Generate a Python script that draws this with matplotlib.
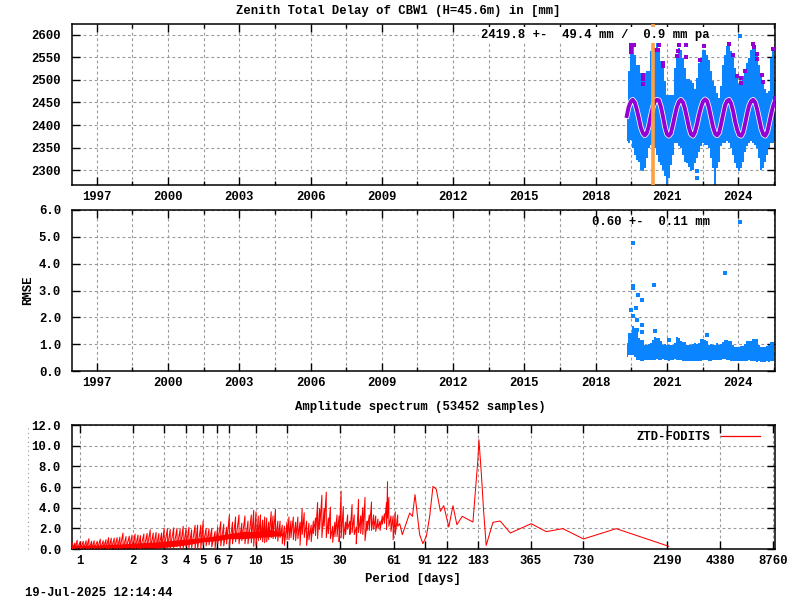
import numpy as np
from matplotlib import pyplot as plt
from matplotlib.lines import Line2D

plt.rcParams['font.family'] = ['Liberation Mono', 'DejaVu Sans']
plt.rcParams['font.weight'] = 'bold'
plt.rcParams['font.size'] = 8.8

# top panel, daily cloud
epochs = [2019.31,2019.39,2019.48,2019.56,2019.65,2019.73,2019.82,2019.90,2019.99,2020.07,
          2020.15,2020.24,2020.32,2020.41,2020.49,2020.58,2020.66,2020.75,2020.83,2020.92,
          2021.00,2021.08,2021.17,2021.25,2021.34,2021.42,2021.51,2021.59,2021.68,2021.76,
          2021.85,2021.93,2022.01,2022.10,2022.18,2022.27,2022.35,2022.44,2022.52,2022.61,
          2022.69,2022.77,2022.86,2022.94,2023.03,2023.11,2023.20,2023.28,2023.37,2023.45,
          2023.54,2023.62,2023.70,2023.79,2023.87,2023.96,2024.04,2024.13,2024.21,2024.30,
          2024.38,2024.46,2024.55,2024.63,2024.72,2024.80,2024.89,2024.97,2025.06,2025.14,
          2025.23,2025.31,2025.39,2025.48,2025.56]
ztd_high = [2449,2519,2582,2582,2556,2534,2534,2516,2516,2516,
            2519,2519,2564,2571,2567,2582,2571,2541,2527,2497,
            2467,2467,2467,2467,2527,2549,2571,2567,2549,2527,
            2501,2501,2497,2493,2479,2504,2538,2549,2567,2567,
            2556,2545,2519,2497,2486,2471,2460,2486,2534,2556,
            2575,2582,2564,2553,2527,2504,2490,2490,2508,2519,
            2538,2549,2567,2578,2571,2556,2534,2508,2493,2479,
            2471,2475,2549,2571,2493]
ztd_low = [2364,2360,2367,2349,2334,2323,2319,2301,2297,2304,
           2327,2349,2356,2356,2349,2334,2319,2312,2301,2286,
           2267,2282,2312,2334,2360,2360,2353,2349,2334,2319,
           2316,2308,2297,2301,2316,2327,2341,2353,2360,2356,
           2356,2349,2327,2304,2267,2304,2319,2353,2360,2360,
           2364,2360,2349,2334,2316,2304,2297,2304,2319,2341,
           2353,2360,2364,2360,2356,2349,2327,2301,2304,2319,
           2334,2349,2360,2360,2364]
ztd_mean = [2420,2440,2452,2456,2450,2435,2415,2395,2382,2377,
            2382,2398,2420,2440,2452,2456,2455,2440,2420,2395,
            2380,2376,2382,2400,2422,2440,2452,2456,2450,2436,
            2414,2394,2380,2376,2384,2402,2422,2440,2452,2457,
            2453,2438,2416,2396,2381,2377,2383,2402,2425,2444,
            2454,2456,2448,2430,2408,2389,2378,2376,2384,2405,
            2426,2443,2453,2456,2450,2434,2412,2392,2379,2376,
            2385,2405,2425,2444,2455]
out_year = [2019.49,2019.56,2019.63,2019.49,2019.49,2019.99,2019.99,2019.99,2020.66,2020.62,
            2020.55,2021.49,2021.46,2021.42,2021.82,2021.79,2022.56,2022.38,2020.83,2020.83,
            2023.62,2023.79,2023.96,2024.13,2024.13,2024.30,2024.63,2024.66,2024.80,2024.80,
            2025.01,2025.06,2025.48,2025.56]
out_ztd = [2578,2578,2578,2571,2562,2512,2501,2490,2578,2567,
           2567,2578,2564,2553,2578,2551,2575,2545,2538,2530,
           2580,2555,2508,2504,2493,2519,2580,2573,2558,2547,
           2512,2496,2569,2460]
blue_year = [2024.08,2022.27,2022.27]
blue_ztd = [2598,2298,2282]
marker_year = 2020.41

# middle panel
rmse_high = [1.03,1.41,1.41,1.66,1.60,1.53,1.22,1.16,1.16,0.97,
             0.97,1.00,1.03,1.16,1.28,1.22,1.22,1.12,0.97,1.00,
             0.97,0.97,0.97,0.97,1.03,1.28,1.22,1.12,1.07,1.07,
             0.97,0.97,0.97,1.00,1.03,1.00,1.03,1.18,1.20,1.16,
             1.10,0.97,1.00,0.97,0.97,1.03,0.97,1.00,1.07,1.16,
             1.16,1.13,1.10,0.97,0.91,0.91,0.91,0.94,0.94,1.00,
             1.12,1.12,1.12,1.18,1.18,1.18,0.97,0.91,0.91,0.91,
             0.94,0.97,1.07,1.07,0.72]
rmse_low = [0.51,0.60,0.60,0.60,0.54,0.41,0.40,0.38,0.39,0.40,
            0.41,0.41,0.42,0.41,0.42,0.43,0.42,0.41,0.44,0.42,
            0.41,0.39,0.41,0.41,0.44,0.42,0.41,0.40,0.38,0.37,
            0.38,0.36,0.38,0.36,0.37,0.38,0.36,0.37,0.41,0.42,
            0.41,0.38,0.37,0.40,0.41,0.42,0.41,0.42,0.43,0.43,
            0.42,0.40,0.37,0.38,0.36,0.37,0.37,0.36,0.36,0.37,
            0.38,0.40,0.38,0.37,0.36,0.35,0.36,0.35,0.34,0.35,
            0.36,0.35,0.37,0.38,0.55]
rmse_out_year = [2024.08,2019.56,2023.45,2019.56,2019.56,2020.45,2019.77,2019.94,2019.69,2019.48,
                 2019.56,2019.73,2019.94,2019.94,2020.49,2022.69,2021.08,2019.73]
rmse_out = [5.56,4.78,3.65,3.18,3.09,3.20,2.83,2.64,2.34,2.27,
            2.04,1.90,1.71,1.45,1.48,1.33,1.15,1.51]

# spectrum, dense part as spike tops and bottoms
spec_p = [0.90,0.93,0.96,1.00,1.04,1.08,1.12,1.16,1.20,1.25,1.30,1.35,1.40,1.45,1.50,1.56,1.62,1.68,1.75,1.82,
          1.90,1.97,2.05,2.13,2.20,2.30,2.40,2.50,2.60,2.70,2.80,2.90,3.00,3.13,3.25,3.40,3.55,3.70,3.85,4.00,
          4.15,4.30,4.50,4.65,4.85,5.00,5.20,5.40,5.60,5.85,6.05,6.30,6.55,6.80,7.05,7.35,7.65,8.00,8.30,8.65,
          9.00,9.40,9.70,10.0,10.3,10.6,10.9,11.2,11.5,11.8,12.2,12.5,12.9,13.3,13.7,14.1,14.5,15.0,15.4,15.8,
          16.3,16.8,17.3,17.8,18.3,18.8,19.4,20.0,20.6,21.2,21.8,22.4,23.0,23.7,24.4,25.1,25.8,26.5,27.3,28.1,
          28.9,29.7,30.5,31.4,32.3,33.2,34.2,35.2,36.2,37.2,38.3,39.4,40.5,41.7,42.9,44.1,45.4,46.7,48.0,49.4,
          50.8,52.3,53.8,55.3,56.0,57.0,58.6,60.3,62.0,64.0]
spec_high = [0.60,0.55,0.85,0.70,0.75,0.80,1.00,0.75,0.80,0.75,0.95,0.80,0.90,1.10,1.05,1.05,1.10,1.15,1.55,1.20,
             1.25,1.35,1.45,1.35,1.30,1.45,1.50,1.85,1.55,1.60,1.50,1.55,2.00,1.95,1.90,2.05,2.00,1.90,2.20,2.00,
             2.10,1.85,2.30,2.30,2.30,2.70,2.00,1.95,2.00,1.70,2.10,2.65,2.40,2.10,3.30,2.60,3.10,3.30,2.50,3.20,
             2.70,3.30,3.75,3.60,3.20,3.30,2.80,3.10,3.00,2.60,3.60,3.20,3.85,2.70,2.70,2.30,2.20,2.60,3.10,2.70,
             3.10,2.60,3.10,2.60,3.90,3.50,2.70,2.50,2.30,2.70,3.00,4.50,3.90,5.20,3.90,5.50,3.00,4.05,2.20,2.60,
             3.30,3.20,5.60,4.10,2.60,3.30,2.70,4.30,3.30,2.10,4.80,3.20,4.00,5.00,2.70,3.30,4.55,3.30,3.20,2.90,
             2.70,3.20,3.40,4.50,6.50,5.00,3.20,3.20,3.60,3.30]
spec_low = [0.00,0.00,0.05,0.00,0.00,0.00,0.00,0.00,0.05,0.00,0.00,0.05,0.00,0.00,0.00,0.05,0.00,0.00,0.05,0.05,
            0.10,0.00,0.05,0.05,0.05,0.05,0.10,0.05,0.10,0.05,0.05,0.00,0.10,0.15,0.10,0.10,0.20,0.05,0.05,0.25,
            0.10,0.10,0.00,0.00,0.00,0.40,0.30,0.40,0.20,0.10,0.50,0.30,0.30,0.50,0.20,0.50,0.70,0.50,0.80,0.50,
            0.50,0.60,0.25,0.35,0.80,0.90,0.70,0.60,0.70,0.90,1.10,1.00,1.00,0.75,1.10,0.50,0.35,0.90,0.90,1.10,
            0.90,0.80,1.00,0.35,1.40,1.10,0.35,0.90,0.70,1.50,1.30,1.00,1.90,1.10,2.20,1.10,1.50,1.00,0.65,1.20,
            1.20,0.70,1.10,1.00,1.40,1.90,1.40,1.60,1.40,0.50,1.60,1.50,1.40,0.80,1.80,1.80,1.80,1.90,1.70,2.00,
            1.80,2.40,2.50,1.90,3.00,2.20,1.70,0.90,1.40,2.20]
# solid part inside the spikes
band_p = [0.90,1.3,1.75,2.2,2.8,3.4,4.0,5.0,6.0,7.0,8.5,10.0,12.0,14.0]
band_bot = [0.00,0.00,0.00,0.05,0.10,0.25,0.40,0.70,0.80,1.00,1.00,1.10,1.20,1.30]
band_top = [0.35,0.40,0.50,0.60,0.70,0.85,0.95,1.10,1.30,1.50,1.70,1.70,1.90,1.60]

# long periods, single line
tail_p = [65.7,68,74.9,77.6,80.3,85.3,89,93.2,97.3,101.6,106,112,117,125,132,139,149,171.5,178,183,
          185.5,191.4,197,204,223,245,280,368,448,557,730,1120,2232]
tail_amp = [2.45,1.39,3.48,3.16,5.26,1.39,0.52,1.23,3.16,6.06,5.80,3.65,4.19,2.13,4.19,2.35,3.16,2.61,6.06,8.65,
            10.58,7.35,3.80,0.35,2.58,2.71,1.55,2.45,1.68,1.97,0.97,1.97,0.26]

period_ticks = [1,2,3,4,5,6,7,10,15,30,61,91,122,183,365,730,2190,4380,8760]
year_labels = [1997,2000,2003,2006,2009,2012,2015,2018,2021,2024]
year_minor = [1998.5,2001.5,2004.5,2007.5,2010.5,2013.5,2016.5,2019.5,2022.5,2025.5]
ztd_ticks = [2300,2350,2400,2450,2500,2550,2600]
rmse_ticks = [0.0,1.0,2.0,3.0,4.0,5.0,6.0]
amp_ticks = [0.0,2.0,4.0,6.0,8.0,10.0,12.0]

blue = '#0a84ff'
purple = '#9400d3'
orange = '#ffa040'
grid_kw = dict(color='#999999', lw=0.8, ls=(0, (2.5, 2.5)))


def panel(top, bottom):
	ax = fig.add_axes([72/800, 1-bottom/600, 703/800, (bottom-top)/600])
	ax.set_axisbelow(True)
	ax.grid(True, which='major', **grid_kw)
	ax.grid(True, which='minor', axis='x', **grid_kw)
	ax.tick_params(which='major', direction='in', length=6, width=1, top=True, right=True)
	ax.tick_params(axis='y', which='major', pad=8)
	ax.tick_params(axis='x', which='major', pad=4)
	ax.tick_params(which='minor', direction='in', length=3, width=1, top=True, bottom=True, left=False, right=False)
	for s in ax.spines.values():
		s.set_linewidth(1.1)
	return ax


def year_axis(ax):
	ax.set_xlim(1995.96, 2025.55)
	ax.set_xticks(year_labels)
	ax.set_xticks(year_minor, minor=True)


fig = plt.figure(figsize=(8, 6), dpi=100)

'Zenith total delay'
ax1 = panel(24, 185)
year_axis(ax1)
ax1.set_ylim(2267, 2624)
ax1.set_yticks(ztd_ticks)
ax1.fill_between(epochs, ztd_low, ztd_high, step='mid', color=blue, lw=0, zorder=2)
ax1.scatter(blue_year, blue_ztd, s=6, marker='s', color=blue, lw=0, zorder=2)
ax1.plot(epochs, ztd_mean, color='white', lw=3.9, zorder=3)
ax1.plot(epochs, ztd_mean, color=purple, lw=2.8, zorder=4)
ax1.scatter(out_year, out_ztd, s=8, marker='s', color=purple, lw=0, zorder=4)
ax1.axvline(marker_year, color=orange, lw=2.6, zorder=5)
ax1.text(481, 600-35, '2419.8 +-  49.4 mm /  0.9 mm pa', transform=None, va='center', ha='left', zorder=6,
	bbox=dict(facecolor='white', edgecolor='none', pad=1.5))
fig.text(398/800, 1-11/600, 'Zenith Total Delay of CBW1 (H=45.6m) in [mm]', ha='center', va='center')

'RMSE'
ax2 = panel(210, 371)
year_axis(ax2)
ax2.set_ylim(0, 6)
ax2.set_yticks(rmse_ticks)
ax2.set_yticklabels(['%.1f' % v for v in rmse_ticks])
ax2.fill_between(epochs, rmse_low, rmse_high, step='mid', color=blue, lw=0, zorder=2)
ax2.scatter(rmse_out_year, rmse_out, s=6, marker='s', color=blue, lw=0, zorder=3)
ax2.text(592, 600-222, '0.60 +-  0.11 mm', transform=None, va='center', ha='left', zorder=6)
fig.text(28.5/800, 1-290/600, 'RMSE', rotation=90, ha='center', va='center')

'Amplitude spectrum'
ax3 = panel(425, 549)
ax3.set_xscale('log')
ax3.set_xlim(0.897, 8977)
ax3.set_ylim(0, 12)
ax3.set_xticks(period_ticks)
ax3.set_xticklabels([str(p) for p in period_ticks])
ax3.minorticks_off()
ax3.set_yticks(amp_ticks)
ax3.set_yticklabels(['%.1f' % v for v in amp_ticks])
ax3.fill_between(band_p, band_bot, band_top, color='red', lw=0, zorder=2)
zig_p = np.repeat(spec_p, 2)
zig_a = np.column_stack([spec_high, spec_low]).ravel()
ax3.plot(np.r_[zig_p, tail_p], np.r_[zig_a, tail_amp], color='red', lw=0.75, zorder=3)
ax3.legend([Line2D([], [], color='red', lw=0.9)], ['ZTD-FODITS'], frameon=False, markerfirst=False,
	loc='center right', bbox_to_anchor=(688/703, 1-12/124), handlelength=3.2, handletextpad=0.9,
	borderpad=0, borderaxespad=0)
fig.text(420/800, 1-407/600, 'Amplitude spectrum (53452 samples)', ha='center', va='center')
fig.text(413/800, 1-579/600, 'Period [days]', ha='center', va='center')
fig.text(25/800, 1-592.5/600, '19-Jul-2025 12:14:44', ha='left', va='center')
fig.add_artist(Line2D([27.7/800, 27.7/800], [1-549/600, 1-428/600], color='#999999', lw=0.8, ls=(0, (1, 3))))

plt.savefig('out.png', dpi=100)
